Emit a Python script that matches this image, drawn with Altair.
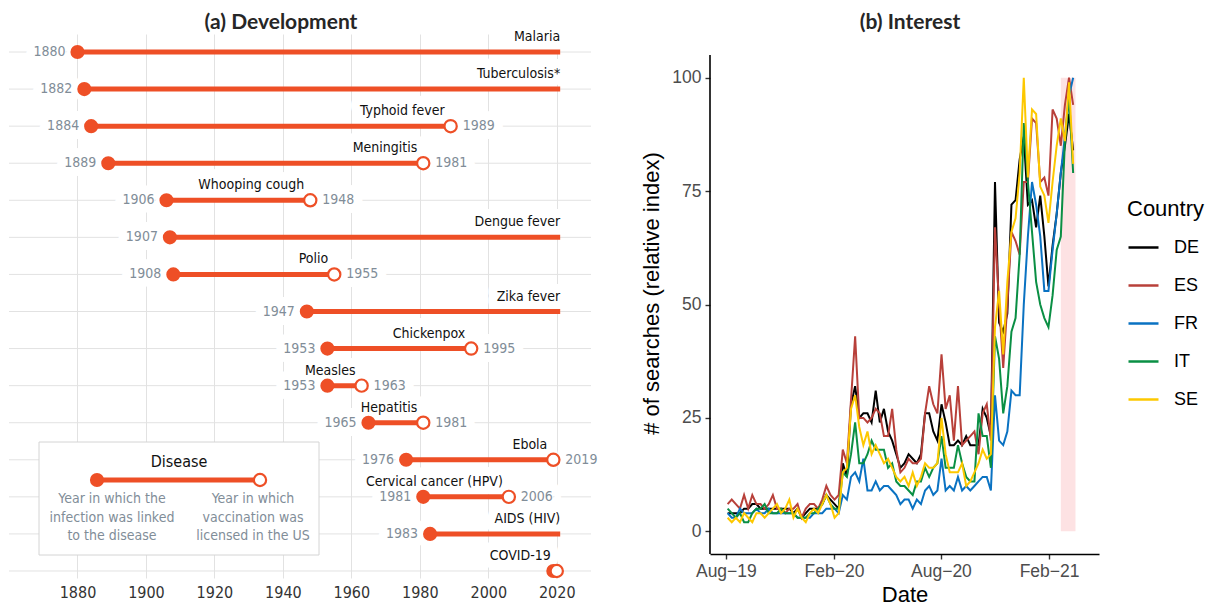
import altair as alt
import pandas as pd
import numpy as np

# ---------------- panel (a) data ----------------
diseases = ["Malaria", "Tuberculosis*", "Typhoid fever", "Meningitis", "Whooping cough",
            "Dengue fever", "Polio", "Zika fever", "Chickenpox", "Measles", "Hepatitis",
            "Ebola", "Cervical cancer (HPV)", "AIDS (HIV)", "COVID-19"]
linked_year = [1880, 1882, 1884, 1889, 1906, 1907, 1908, 1947, 1953, 1953, 1965, 1976, 1981, 1983, 2019]
vaccine_year = [None, None, 1989, 1981, 1948, None, 1955, None, 1995, 1963, 1981, 2019, 2006, None, 2020]
present_year = 2021
hidden_year_labels = ["COVID-19"]
x_ticks_a = [1880, 1900, 1920, 1940, 1960, 1980, 2000, 2020]
title_a = "(a) Development"
legend_title_a = "Disease"
legend_left_text = ["Year in which the", "infection was linked", "to the disease"]
legend_right_text = ["Year in which", "vaccination was", "licensed in the US"]

# ---------------- panel (b) data ----------------
title_b = "(b) Interest"
week_start = "2019-08-04"
countries = ["DE", "ES", "FR", "IT", "SE"]
country_colors = ["#000000", "#b8403a", "#0a72c2", "#0a8f44", "#fdc800"]
de = [4, 4, 4, 4, 5, 5, 6, 6, 5, 5, 5, 5, 5, 5, 5, 5, 4, 5, 3, 4, 5, 5, 5, 6, 8, 7, 6, 5,
      15, 12, 28, 32, 25, 26, 26, 24, 31, 24, 27, 22, 20, 17, 14, 15, 17, 16, 15, 17, 26, 26,
      22, 20, 28, 24, 19, 19, 20, 19, 21, 19, 19, 19, 27, 25, 21,
      77, 46, 44, 48, 72, 73, 82, 87, 72, 73, 67, 74, 65, 54, 63, 70, 79, 85, 92, 84]
es = [6, 7, 6, 5, 8, 5, 8, 6, 6, 5, 6, 8, 5, 5, 4, 5, 5, 6, 3, 5, 6, 6, 5, 7, 10, 8, 7, 8,
      18, 15, 29, 43, 25, 25, 24, 25, 27, 26, 21, 21, 27, 18, 13, 14, 16, 15, 15, 16, 26, 32,
      28, 26, 39, 27, 30, 20, 32, 19, 20, 21, 22, 17, 26, 28, 20,
      67, 50, 36, 50, 66, 64, 61, 77, 77, 91, 90, 77, 78, 74, 93, 91, 85, 94, 100, 94]
fr = [4, 3, 3, 5, 4, 4, 4, 5, 4, 4, 5, 4, 4, 4, 4, 4, 4, 3, 3, 3, 3, 4, 4, 4, 5, 5, 5, 4,
      8, 7, 12, 13, 11, 16, 9, 9, 11, 9, 10, 10, 9, 8, 6, 7, 7, 5, 7, 6, 9, 10,
      8, 9, 16, 9, 10, 9, 12, 9, 10, 9, 10, 11, 12, 12, 9,
      30, 20, 19, 22, 31, 30, 30, 50, 65, 77, 72, 65, 53, 53, 62, 70, 79, 87, 96, 100]
it = [5, 4, 3, 4, 2, 2, 4, 5, 5, 6, 4, 4, 4, 5, 4, 4, 4, 3, 3, 3, 4, 4, 5, 6, 8, 6, 5, 5,
      13, 12, 17, 24, 15, 15, 17, 20, 18, 18, 18, 14, 15, 11, 10, 10, 9, 8, 11, 11, 14, 12,
      14, 15, 21, 14, 14, 14, 19, 15, 12, 11, 11, 26, 21, 21, 14,
      43, 38, 26, 32, 44, 47, 61, 90, 77, 66, 55, 50, 47, 45, 52, 62, 65, 86, 96, 79]
se = [3, 2, 3, 2, 4, 3, 2, 4, 4, 3, 4, 5, 6, 4, 5, 7, 3, 5, 3, 2, 4, 5, 4, 6, 8, 6, 3, 4,
      13, 14, 27, 30, 23, 19, 22, 17, 19, 17, 15, 16, 14, 12, 11, 12, 10, 13, 10, 12, 15, 14,
      14, 15, 25, 17, 13, 13, 13, 15, 10, 11, 13, 15, 18, 16, 17,
      45, 53, 39, 55, 66, 69, 79, 100, 78, 93, 92, 76, 74, 68, 77, 85, 91, 86, 99, 81]
highlight_start = ["2021-02-21"]
highlight_end = ["2021-03-18"]
highlight_low = [0]
highlight_high = [100]
y_ticks_b = [0, 25, 50, 75, 100]
y_axis_range_b = [-5, 105]

# ---------------- styling ----------------
orange = "#ee4f26"
gray_lbl = "#818d98"
narrow = "DejaVu Sans Condensed"
sans = "Liberation Sans"
title_font = "Lato"
lbl_size = 14

W_A, H_A = 582, 544
W_B, H_B = 389, 520

# ---------------- panel (a) ----------------
df_a = pd.DataFrame({
    "disease": diseases,
    "row": list(range(len(diseases))),
    "linked": linked_year,
    "vaccine": [np.nan if v is None else float(v) for v in vaccine_year],
})
df_a["line_end"] = df_a["vaccine"].fillna(present_year)
df_a["linked_txt"] = df_a["linked"].astype(int).astype(str)
df_a["vaccine_txt"] = df_a["vaccine"].apply(lambda v: "" if pd.isna(v) else str(int(v)))
shown = ~df_a["disease"].isin(hidden_year_labels)
df_v = df_a[df_a["vaccine"].notna()]
df_nov = df_a[df_a["vaccine"].isna()]
df_start_lbl = df_a[shown]
df_end_lbl = df_v[~df_v["disease"].isin(hidden_year_labels)]

xs = alt.Scale(domain=[1860, 2030], nice=False, zero=False)
ys = alt.Scale(domain=[-0.486, 14.189], nice=False, zero=False, reverse=True)
axis_a = alt.Axis(values=x_ticks_a, format="d", grid=True, gridColor="#e2e2e2", gridWidth=1,
                  domain=False, ticks=False, labelFont=narrow, labelFontSize=16,
                  labelColor="#333333", labelPadding=6, title=None)
Y = alt.Y("row:Q", scale=ys, axis=None, title=None)


def XA(field):
    return alt.X(field + ":Q", scale=xs, axis=axis_a, title=None)


def text_layer(df, xfield, tfield, align, dx, color, halo, dy=0, baseline="middle", size=lbl_size):
    kw = dict(align=align, dx=dx, dy=dy, baseline=baseline, font=narrow, fontSize=size)
    if halo:
        m = alt.Chart(df).mark_text(stroke="white", strokeWidth=18, strokeJoin="round", fill="white", **kw)
    else:
        m = alt.Chart(df).mark_text(color=color, **kw)
    return m.encode(x=XA(xfield), y=Y, text=alt.Text(tfield + ":N"))


hgrid = alt.Chart(df_a).mark_rule(color="#e2e2e2", strokeWidth=1).encode(
    y=Y, x=alt.value(0), x2=alt.value(W_A))

bars = alt.Chart(df_a).mark_rule(color=orange, strokeWidth=5).encode(
    x=XA("linked"), x2="line_end:Q", y=Y)
start_dots = alt.Chart(df_a).mark_circle(color=orange, size=200, opacity=1).encode(x=XA("linked"), y=Y)
end_dots = alt.Chart(df_v).mark_point(shape="circle", filled=True, fill="white", stroke=orange,
                                      strokeWidth=2.2, size=150, opacity=1).encode(x=XA("vaccine"), y=Y)

halos = [
    text_layer(df_start_lbl, "linked", "linked_txt", "right", -12, None, True),
    text_layer(df_end_lbl, "vaccine", "vaccine_txt", "left", 12, None, True),
    text_layer(df_v, "vaccine", "disease", "right", -6, None, True, dy=-8, baseline="bottom"),
    text_layer(df_nov, "line_end", "disease", "right", 0, None, True, dy=-8, baseline="bottom"),
]
labels = [
    text_layer(df_start_lbl, "linked", "linked_txt", "right", -12, gray_lbl, False),
    text_layer(df_end_lbl, "vaccine", "vaccine_txt", "left", 12, gray_lbl, False),
    text_layer(df_v, "vaccine", "disease", "right", -6, "#111111", False, dy=-8, baseline="bottom"),
    text_layer(df_nov, "line_end", "disease", "right", 0, "#111111", False, dy=-8, baseline="bottom"),
]

one = pd.DataFrame({"k": [0]})
lg_box = alt.Chart(one).mark_rect(fill="white", stroke="#d4d4d4", strokeWidth=1).encode(
    x=alt.value(30), x2=alt.value(310), y=alt.value(408), y2=alt.value(521))
lg_title = alt.Chart(one).mark_text(font=narrow, fontSize=16, color="#111111").encode(
    x=alt.value(170), y=alt.value(428), text=alt.value(legend_title_a))
lg_bar = alt.Chart(one).mark_rule(color=orange, strokeWidth=5).encode(
    x=alt.value(88), x2=alt.value(251), y=alt.value(446))
lg_dot1 = alt.Chart(one).mark_circle(color=orange, size=200, opacity=1).encode(
    x=alt.value(88), y=alt.value(446))
lg_dot2 = alt.Chart(one).mark_point(shape="circle", filled=True, fill="white", stroke=orange,
                                    strokeWidth=2.2, size=150, opacity=1).encode(
    x=alt.value(251), y=alt.value(446))
lg_txt1 = alt.Chart(one).mark_text(font=narrow, fontSize=lbl_size, color=gray_lbl, lineHeight=18.5,
                                   baseline="top").encode(
    x=alt.value(103), y=alt.value(458), text=alt.value(legend_left_text))
lg_txt2 = alt.Chart(one).mark_text(font=narrow, fontSize=lbl_size, color=gray_lbl, lineHeight=18.5,
                                   baseline="top").encode(
    x=alt.value(244), y=alt.value(458), text=alt.value(legend_right_text))
ttl_a = alt.Chart(one).mark_text(font=title_font, fontSize=21, fontWeight="bold", color="#262626").encode(
    x=alt.value(272), y=alt.value(-11.5), text=alt.value(title_a))

left = alt.layer(
    hgrid, *halos, bars, start_dots, end_dots, *labels,
    lg_box, lg_title, lg_bar, lg_dot1, lg_dot2, lg_txt1, lg_txt2, ttl_a,
).properties(width=W_A, height=H_A)

# ---------------- panel (b) ----------------
dates = pd.date_range(week_start, periods=len(de), freq="7D")
series = [de, es, fr, it, se]
df_b = pd.concat([pd.DataFrame({"date": dates.strftime("%Y-%m-%d"), "country": c, "value": v})
                  for c, v in zip(countries, series)], ignore_index=True)
df_hl = pd.DataFrame({"start": highlight_start, "end": highlight_end,
                      "low": highlight_low, "high": highlight_high})
df_axis = pd.DataFrame({"lo": [y_axis_range_b[0]], "hi": [y_axis_range_b[1]]})

xs_b = alt.Scale(domain=[alt.DateTime(year=2019, month=7, date=5),
                         alt.DateTime(year=2021, month=4, date=27)], nice=False)
ys_b = alt.Scale(domain=[-5, 109.63], nice=False, zero=False)

axis_x_b = alt.Axis(values=[alt.DateTime(year=2019, month=8, date=1), alt.DateTime(year=2020, month=2, date=1),
                            alt.DateTime(year=2020, month=8, date=1), alt.DateTime(year=2021, month=2, date=1)],
                    format="%b\u2212%y", grid=False, domainColor="#000000", domainWidth=1.6,
                    tickColor="#333333", tickWidth=1.4, tickSize=5, labelFont=sans, labelFontSize=17.5,
                    labelColor="#4d4d4d", labelPadding=3, title="Date", titleFont=sans,
                    titleFontSize=22, titleFontWeight="normal", titleColor="#000000", titlePadding=5)
axis_y_b = alt.Axis(values=y_ticks_b, grid=False, domain=False,
                    tickColor="#333333", tickWidth=1.4, tickSize=5, labelFont=sans, labelFontSize=17.5,
                    labelColor="#4d4d4d", labelPadding=4, title="# of searches (relative index)",
                    titleFont=sans, titleFontSize=22, titleFontWeight="normal", titleColor="#000000",
                    titlePadding=8, titleY=H_B - 261)

XB = lambda f: alt.X(f, scale=xs_b, axis=axis_x_b)
YB = lambda f: alt.Y(f, scale=ys_b, axis=axis_y_b)

hl = alt.Chart(df_hl).mark_rect(color="#fde2e3", opacity=1).encode(
    x=XB("start:T"), x2="end:T", y=YB("low:Q"), y2="high:Q")

yline = alt.Chart(df_axis).mark_rule(color="#000000", strokeWidth=1.6).encode(
    x=alt.value(0), y=YB("lo:Q"), y2="hi:Q")

lines = alt.Chart(df_b).mark_line(strokeWidth=2).encode(
    x=XB("date:T"),
    y=YB("value:Q"),
    color=alt.Color("country:N", scale=alt.Scale(domain=countries, range=country_colors),
                    legend=alt.Legend(title="Country", orient="none", legendX=417, legendY=165,
                                      titleFont=sans, titleFontSize=22, titleFontWeight="normal",
                                      titleColor="#000000", labelFont=sans, labelFontSize=18,
                                      labelColor="#000000", symbolType="stroke", symbolSize=900,
                                      symbolStrokeWidth=2.5, rowPadding=12, labelOffset=14,
                                      titlePadding=10)),
    order=alt.Order("date:T"),
)

ttl_b = alt.Chart(one).mark_text(font=title_font, fontSize=21, fontWeight="bold", color="#262626").encode(
    x=alt.value(200), y=alt.value(-11.5), text=alt.value(title_b))

right = alt.layer(hl, yline, lines, ttl_b).properties(width=W_B, height=H_B)

chart = alt.hconcat(left, right, spacing=42).resolve_scale(
    x="independent", y="independent", color="independent"
).properties(padding={"left": 0, "top": 3, "right": 0, "bottom": 0}).configure_view(strokeWidth=0)

chart.save("out.html", embed_options={"renderer": "svg", "actions": False})
